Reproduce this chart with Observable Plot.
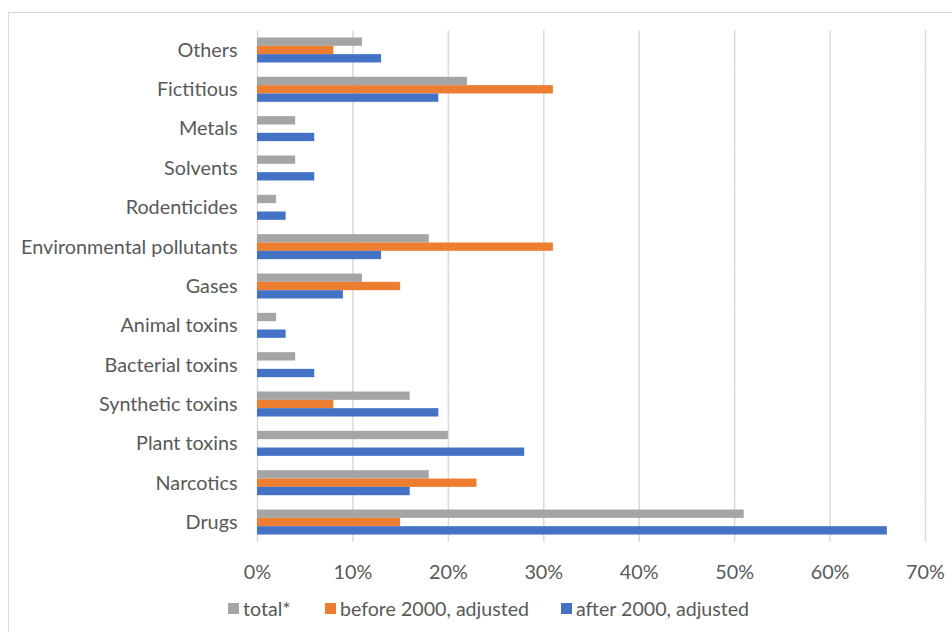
<!DOCTYPE html>
<html><head><meta charset="utf-8">
<script src="https://cdn.jsdelivr.net/npm/d3@7"></script>
<script src="https://cdn.jsdelivr.net/npm/@observablehq/plot@0.6"></script>
<style>
body{margin:0;background:#fff;}
#wrap{position:relative;width:952px;height:632px;overflow:hidden;background:#fff;font-family:Lato,sans-serif}
#frame{position:absolute;left:8px;top:12px;width:980px;height:660px;border:1.5px solid #d9d9d9;box-sizing:border-box}
#chart{position:absolute;left:0;top:0}
#legend{position:absolute;top:597px;left:0;height:22px;width:952px;font-size:19.6px;color:#595959;white-space:nowrap}
#legend .item{position:absolute;top:0;display:flex;align-items:center;height:22px}
#legend .sw{width:11px;height:11px;margin-right:4px}
</style></head>
<body><div id="wrap"><div id="frame"></div><div id="chart"></div><div id="legend"></div></div>
<script>
const categories = ["Others","Fictitious","Metals","Solvents","Rodenticides","Environmental pollutants","Gases","Animal toxins","Bacterial toxins","Synthetic toxins","Plant toxins","Narcotics","Drugs"];
const seriesNames = ["total*","before 2000, adjusted","after 2000, adjusted"];
const seriesColors = ["#A5A5A5","#ED7D31","#4472C4"];
const total  = [0.11,0.22,0.04,0.04,0.02,0.18,0.11,0.02,0.04,0.16,0.20,0.18,0.51];
const before = [0.08,0.31,null,null,null,0.31,0.15,null,null,0.08,null,0.23,0.15];
const after  = [0.13,0.19,0.06,0.06,0.03,0.13,0.09,0.03,0.06,0.19,0.28,0.16,0.66];
const xTicks = [0,0.1,0.2,0.3,0.4,0.5,0.6,0.7];

const seriesValues = [total, before, after];
const data = categories.flatMap((c,i) => seriesNames.map((s,j) => ({category:c, series:s, value:seriesValues[j][i]})))
  .filter(d => d.value != null);

const chart = Plot.plot({
  width: 952,
  height: 590,
  marginLeft: 257,
  marginRight: 27,
  marginTop: 30.3,
  marginBottom: 48.3,
  style: {fontFamily: "Lato, sans-serif", fontSize: "19.8px", color: "#595959", background: "transparent"},
  x: {domain: [0, 0.7], ticks: xTicks, tickFormat: d3.format(".0%"), grid: true, tickSize: 0, tickPadding: 23, label: null},
  fy: {domain: categories, padding: 0, round: false, label: null, tickSize: 0, tickPadding: 20},
  y: {domain: seriesNames, paddingInner: 0, paddingOuter: 0.86, round: false, axis: null},
  color: {domain: seriesNames, range: seriesColors},
  facet: {data: data, y: "category", marginLeft: 257},
  marks: [
    Plot.barX(data, {x: "value", y: "series", fy: "category", fill: "series"})
  ]
});
document.getElementById("chart").appendChild(chart);
d3.select(chart).selectAll("g[aria-label='x-grid'] line").attr("stroke", "#d9d9d9").attr("stroke-opacity", 1).attr("stroke-width", 1.5);

const legendLeft = [228, 325, 561];
const legend = d3.select("#legend");
seriesNames.forEach((s,i) => {
  const it = legend.append("div").attr("class","item").style("left", legendLeft[i] + "px");
  it.append("div").attr("class","sw").style("background", seriesColors[i]);
  it.append("span").text(s);
});
</script></body></html>
